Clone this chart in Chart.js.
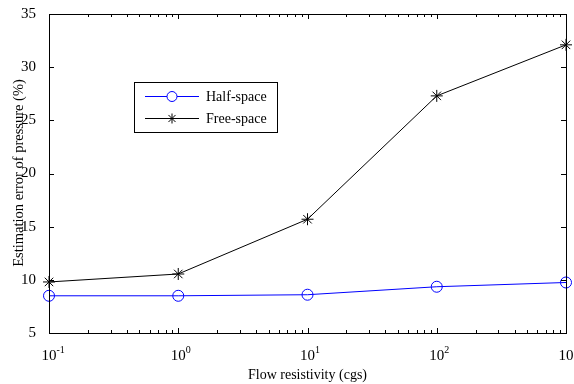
<!DOCTYPE html>
<html>
<head>
<meta charset="utf-8">
<script src="https://cdn.jsdelivr.net/npm/chart.js@4/dist/chart.umd.min.js"></script>
<style>
  html, body { margin: 0; padding: 0; background: #fff; }
  #wrap { width: 574px; height: 384px; }
</style>
</head>
<body>
<div id="wrap"><canvas id="errGraph"></canvas></div>
<script>
// data
var flowRes = [0.1, 1, 10, 100, 1000];
var halfSpace = [8.5, 8.5, 8.6, 9.35, 9.75];
var freeSpace = [9.8, 10.55, 15.7, 27.3, 32.1];
var yTicks = [5, 10, 15, 20, 25, 30, 35];
var xDecades = [-1, 0, 1, 2, 3];

var serif = '"Liberation Serif", "Times New Roman", serif';

function pts(ys) {
    var out = [];
    for (var i = 0; i < flowRes.length; i++) {
        out.push({x: flowRes[i], y: ys[i]});
    }
    return out;
}

// frame, inward ticks, 10^n labels, axis titles, legend box
var matlabLook = {
    id: 'matlabLook',
    afterDraw: function(chart) {
        var ctx = chart.ctx;
        var a = chart.chartArea;
        var xs = chart.scales.x;
        var ys = chart.scales.y;
        ctx.save();
        ctx.strokeStyle = '#000';
        ctx.lineWidth = 1;
        ctx.strokeRect(Math.round(a.left) + 0.5, Math.round(a.top) + 0.5,
                       Math.round(a.right - a.left), Math.round(a.bottom - a.top));

        // x ticks (major + minor), top and bottom
        ctx.beginPath();
        for (var d = -1; d <= 3; d++) {
            for (var m = 1; m <= 9; m++) {
                var v = m * Math.pow(10, d);
                if (v > 1000) break;
                var px = Math.round(xs.getPixelForValue(v)) + 0.5;
                var len = (m == 1) ? 5 : 3;
                ctx.moveTo(px, a.bottom);
                ctx.lineTo(px, a.bottom - len);
                ctx.moveTo(px, a.top);
                ctx.lineTo(px, a.top + len);
            }
        }
        // y ticks, left and right
        for (var i = 0; i < yTicks.length; i++) {
            var py = Math.round(ys.getPixelForValue(yTicks[i])) + 0.5;
            ctx.moveTo(a.left, py);
            ctx.lineTo(a.left + 5, py);
            ctx.moveTo(a.right, py);
            ctx.lineTo(a.right - 5, py);
        }
        ctx.stroke();

        // x labels as 10^n
        ctx.fillStyle = '#000';
        ctx.textBaseline = 'alphabetic';
        for (var k = 0; k < xDecades.length; k++) {
            var cx = xs.getPixelForValue(Math.pow(10, xDecades[k]));
            ctx.font = '15px ' + serif;
            var baseW = ctx.measureText('10').width;
            var x0 = cx - baseW / 2;
            ctx.textAlign = 'left';
            ctx.fillText('10', x0, 360);
            ctx.font = '10px ' + serif;
            ctx.fillText(String(xDecades[k]), x0 + baseW, 353);
        }

        // axis titles
        ctx.font = '14px ' + serif;
        ctx.textAlign = 'center';
        ctx.fillText('Flow resistivity (cgs)', (a.left + a.right) / 2, 379);
        ctx.save();
        ctx.translate(23, 173);
        ctx.rotate(-Math.PI / 2);
        ctx.font = '14.5px ' + serif;
        ctx.fillText('Estimation error of pressure (%)', 0, 0);
        ctx.restore();

        // legend
        var bx = 134, by = 82, bw = 143, bh = 50;
        ctx.fillStyle = '#fff';
        ctx.fillRect(bx, by, bw, bh);
        ctx.strokeStyle = '#000';
        ctx.strokeRect(bx + 0.5, by + 0.5, bw, bh);
        var rows = [
            {label: 'Half-space', color: '#0000ff', y: 96, style: 'circle'},
            {label: 'Free-space', color: '#000000', y: 118, style: 'star'}
        ];
        for (var r = 0; r < rows.length; r++) {
            var row = rows[r];
            ctx.strokeStyle = row.color;
            ctx.lineWidth = 1;
            ctx.beginPath();
            ctx.moveTo(145, row.y + 0.5);
            ctx.lineTo(199, row.y + 0.5);
            ctx.stroke();
            Chart.helpers.drawPoint(ctx, {pointStyle: row.style, radius: 5, borderWidth: 1}, 172, row.y + 0.5);
            ctx.fillStyle = '#000';
            ctx.textAlign = 'left';
            ctx.textBaseline = 'middle';
            ctx.font = '14px ' + serif;
            ctx.fillText(row.label, 206, row.y + 1);
        }
        ctx.restore();
    }
};

const ctx1 = document.getElementById('errGraph').getContext('2d');
const errGraph = new Chart(ctx1, {
    type: 'line',
    data: {
        datasets: [
            {
                label: 'Half-space',
                data: pts(halfSpace),
                borderColor: '#0000ff',
                backgroundColor: 'rgba(0,0,0,0)',
                borderWidth: 1,
                pointStyle: 'circle',
                pointRadius: 5.5,
                pointBorderWidth: 1,
                pointBackgroundColor: 'rgba(0,0,0,0)',
                pointBorderColor: '#0000ff',
                tension: 0
            },
            {
                label: 'Free-space',
                data: pts(freeSpace),
                borderColor: '#000000',
                backgroundColor: 'rgba(0,0,0,0)',
                borderWidth: 1,
                pointStyle: 'star',
                pointRadius: 6,
                pointBorderWidth: 1,
                pointBorderColor: '#000000',
                tension: 0
            }
        ]
    },
    options: {
        responsive: true,
        maintainAspectRatio: false,
        animation: false,
        clip: false,
        layout: {padding: {top: 13, right: 8, left: 0, bottom: 0}},
        plugins: {
            legend: {display: false},
            tooltip: {enabled: false}
        },
        scales: {
            x: {
                type: 'logarithmic',
                min: 0.1,
                max: 1000,
                grid: {display: false},
                border: {display: false},
                ticks: {display: false},
                afterFit: function(s) { s.height = 51; }
            },
            y: {
                min: 5,
                max: 35,
                grid: {display: false},
                border: {display: false},
                ticks: {
                    stepSize: 5,
                    padding: 5,
                    color: '#000',
                    font: {family: serif, size: 15}
                },
                afterFit: function(s) { s.width = 49; }
            }
        }
    },
    plugins: [matlabLook]
});
</script>
</body>
</html>
